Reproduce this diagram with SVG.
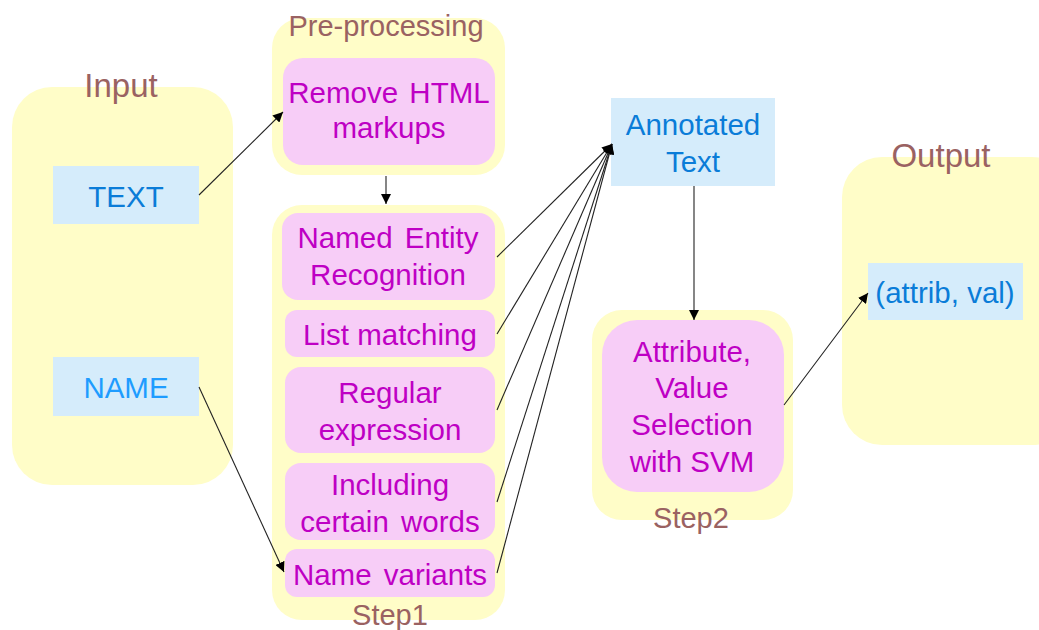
<svg xmlns="http://www.w3.org/2000/svg" width="1039" height="630" viewBox="0 0 1039 630">
<defs>
<marker id="ah" viewBox="0 0 10 10" refX="10" refY="5" markerWidth="10" markerHeight="10" markerUnits="userSpaceOnUse" orient="auto">
<path d="M0,0 L10,5 L0,10 Z" fill="#000"/>
</marker>
<style>
.cont{fill:#FFFDC8;}
.pink{fill:#F7CDF7;}
.blue{fill:#D5ECFB;}
text{font-family:"Liberation Sans",Arial,sans-serif;text-anchor:middle;}
.lbl{fill:#9A6262;font-size:29px;}
.big{fill:#9A6262;font-size:33px;}
.pt{fill:#BE00C4;font-size:29.5px;}
.bt{fill:#0A7CD8;font-size:29.5px;}
.bt2{fill:#1E9CFF;font-size:29.5px;}
.ln{stroke:#222;stroke-width:1.1;fill:none;marker-end:url(#ah);}
</style>
</defs>
<rect width="1039" height="630" fill="#fff"/>

<g id="input">
<rect class="cont" x="12" y="87" width="221" height="398" rx="40"/>
<text class="big" x="121" y="97">Input</text>
</g>
<g id="text-node">
<rect class="blue" x="53" y="166" width="146" height="58"/>
<text class="bt" x="126" y="207">TEXT</text>
</g>
<g id="name-node">
<rect class="blue" x="53" y="357" width="146" height="59"/>
<text class="bt2" x="126" y="398">NAME</text>
</g>

<g id="preprocessing">
<rect class="cont" x="272" y="18" width="233" height="157" rx="30"/>
<text class="lbl" x="386" y="36">Pre-processing</text>
</g>
<g id="remove-html">
<rect class="pink" x="283" y="58" width="212" height="107" rx="20"/>
<text class="pt" x="389" y="103" word-spacing="3">Remove HTML</text>
<text class="pt" x="389" y="138">markups</text>
</g>

<g id="step1">
<rect class="cont" x="272" y="205" width="233" height="415" rx="30"/>
<text class="lbl" x="390" y="625">Step1</text>
</g>
<g id="ner">
<rect class="pink" x="282" y="213" width="213" height="87" rx="16"/>
<text class="pt" x="388" y="248" word-spacing="4">Named Entity</text>
<text class="pt" x="388" y="285">Recognition</text>
</g>
<g id="list-matching">
<rect class="pink" x="285" y="310" width="210" height="47" rx="12"/>
<text class="pt" x="390" y="345">List matching</text>
</g>
<g id="regex">
<rect class="pink" x="285" y="367" width="210" height="86" rx="16"/>
<text class="pt" x="390" y="403">Regular</text>
<text class="pt" x="390" y="440">expression</text>
</g>
<g id="including">
<rect class="pink" x="285" y="463" width="210" height="77" rx="16"/>
<text class="pt" x="390" y="495">Including</text>
<text class="pt" x="390" y="532" word-spacing="4">certain words</text>
</g>
<g id="name-variants">
<rect class="pink" x="285" y="549" width="210" height="48" rx="12"/>
<text class="pt" x="390" y="585" word-spacing="4">Name variants</text>
</g>

<g id="annotated">
<rect class="blue" x="611" y="98" width="164" height="88"/>
<text class="bt" x="693" y="135">Annotated</text>
<text class="bt" x="693" y="172">Text</text>
</g>

<g id="step2">
<rect class="cont" x="592" y="310" width="201" height="210" rx="30"/>
<text class="lbl" x="691" y="528">Step2</text>
</g>
<g id="svm">
<rect class="pink" x="602" y="320" width="182" height="172" rx="35"/>
<text class="pt" x="692" y="362">Attribute,</text>
<text class="pt" x="692" y="398">Value</text>
<text class="pt" x="692" y="435">Selection</text>
<text class="pt" x="692" y="472">with SVM</text>
</g>

<g id="output">
<rect class="cont" x="842" y="157" width="230" height="288" rx="40"/>
<text class="big" x="941" y="167">Output</text>
</g>
<g id="attrib-val">
<rect class="blue" x="868" y="263" width="155" height="57"/>
<text class="bt" x="945" y="303">(attrib, val)</text>
</g>

<g id="connectors">
<line class="ln" x1="199" y1="195" x2="283" y2="112"/>
<line class="ln" x1="199" y1="387" x2="284" y2="572"/>
<line class="ln" x1="386" y1="176" x2="386" y2="204"/>
<line class="ln" x1="497" y1="257" x2="612" y2="144"/>
<line class="ln" x1="497" y1="334" x2="612" y2="144"/>
<line class="ln" x1="497" y1="410" x2="612" y2="144"/>
<line class="ln" x1="497" y1="502" x2="612" y2="144"/>
<line class="ln" x1="497" y1="573" x2="612" y2="144"/>
<line class="ln" x1="694" y1="186" x2="694" y2="320"/>
<line class="ln" x1="784" y1="405" x2="868" y2="293"/>
</g>
</svg>
